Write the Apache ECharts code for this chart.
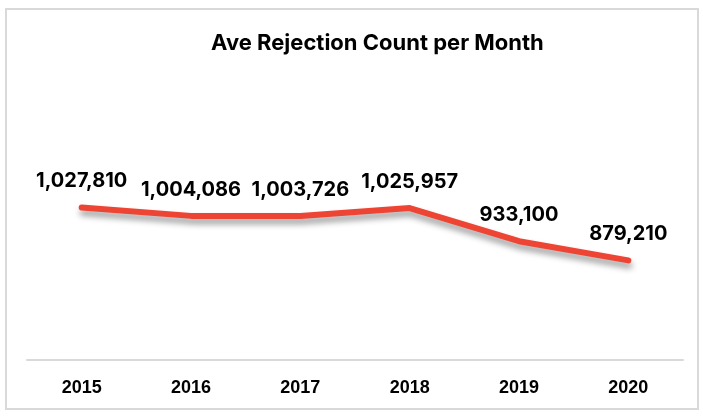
<!DOCTYPE html>
<html>
<head>
<meta charset="utf-8">
<script src="https://cdn.jsdelivr.net/npm/echarts@6/dist/echarts.min.js"></script>
<style>
html,body{margin:0;padding:0;background:#fff;}
#frame{position:absolute;left:5px;top:8px;width:694px;height:402px;border:2px solid #d9d9d9;box-sizing:border-box;}
#chart{position:absolute;left:0;top:0;width:703px;height:416px;}
</style>
</head>
<body>
<div id="frame"></div>
<div id="chart"></div>
<script>
const titleText = "Ave Rejection Count per Month";
const years = ["2015", "2016", "2017", "2018", "2019", "2020"];
const rejections = [1027810, 1004086, 1003726, 1025957, 933100, 879210];

function fmt(v) {
  return String(Math.round(v)).replace(/\B(?=(\d{3})+(?!\d))/g, ',');
}

const chart = echarts.init(document.getElementById('chart'), null, {renderer: 'canvas'});
chart.setOption({
  animation: false,
  backgroundColor: 'transparent',
  title: {
    text: titleText,
    left: 206,
    top: 27,
    textStyle: {fontFamily: 'Inter, "Liberation Sans", sans-serif', fontWeight: 'bold', fontSize: 22, color: '#000'}
  },
  grid: {left: 27, right: 20, top: 146, bottom: 56},
  xAxis: {
    type: 'category',
    data: years,
    boundaryGap: true,
    axisLine: {lineStyle: {color: '#d9d9d9', width: 2}},
    axisTick: {show: false},
    axisLabel: {margin: 19, color: '#000', fontWeight: 'bold', fontSize: 18,
      fontFamily: '"Liberation Sans Narrow", "Arial Narrow", "Liberation Sans", sans-serif'}
  },
  yAxis: {
    type: 'value',
    min: 600000,
    max: 1200000,
    show: false,
    splitLine: {show: false}
  },
  series: [{
    type: 'line',
    data: rejections,
    symbol: 'circle',
    symbolSize: 4,
    showSymbol: true,
    itemStyle: {color: '#EE4433'},
    lineStyle: {color: '#EE4433', width: 6, cap: 'round', join: 'round',
      shadowColor: 'rgba(0,0,0,0.4)', shadowBlur: 6, shadowOffsetY: 5, shadowOffsetX: 1},
    label: {
      show: true,
      position: 'top',
      distance: 14,
      color: '#000',
      fontWeight: 'bold',
      fontSize: 20,
      fontFamily: 'Inter, "Liberation Sans", sans-serif',
      formatter: p => fmt(p.value)
    }
  }]
});
</script>
</body>
</html>
